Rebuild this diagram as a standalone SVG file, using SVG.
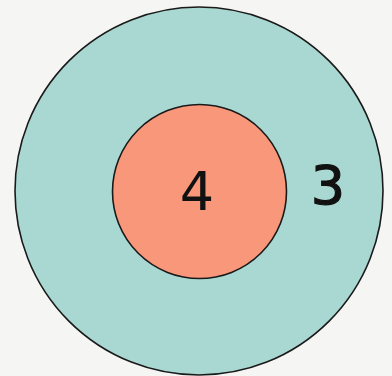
<svg xmlns="http://www.w3.org/2000/svg" width="392" height="376" viewBox="0 0 392 376">
<style>
.ring{stroke:#1a1a1a;stroke-width:1.6}
.num{font-family:"DejaVu Sans",sans-serif;fill:#111;text-anchor:middle}
</style>
<rect width="392" height="376" fill="#f5f5f3"/>
<g id="outer">
<circle class="ring" cx="199" cy="191" r="184" fill="#a9d8d2"/>
<text class="num" x="328" y="204" font-size="54" stroke="#111" stroke-width="1.2">3</text>
</g>
<g id="inner">
<circle class="ring" cx="199.5" cy="191.5" r="87" fill="#f9977b"/>
<text class="num" x="197" y="210" font-size="54">4</text>
</g>
</svg>
